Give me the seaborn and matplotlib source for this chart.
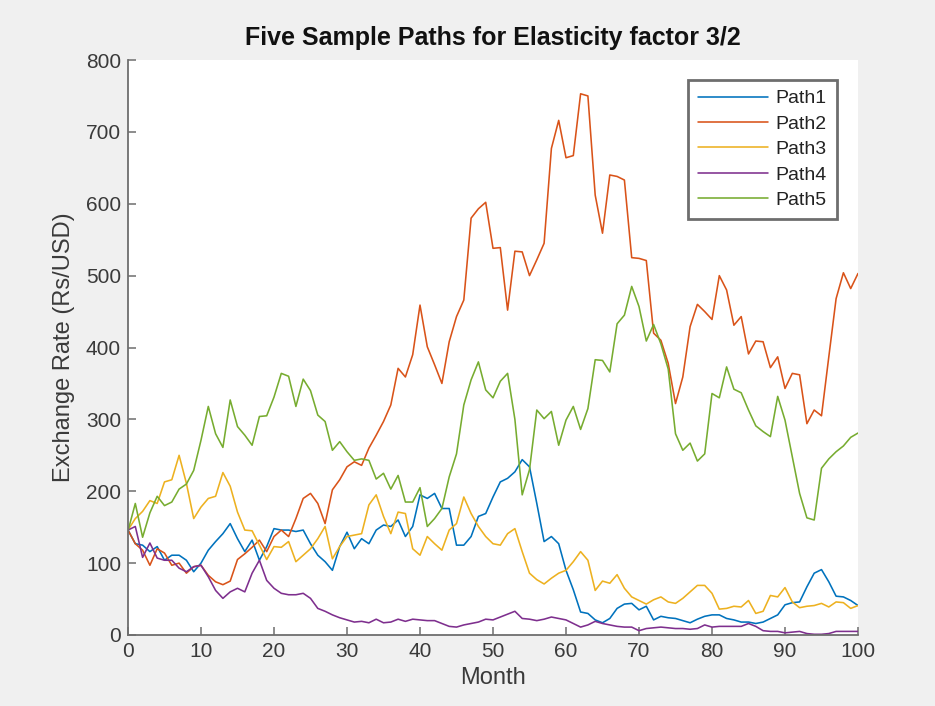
import numpy as np
import pandas as pd
import matplotlib
matplotlib.use("Agg")
import matplotlib.pyplot as plt
import seaborn as sns

months = list(range(101))

path1 = [146, 127, 125, 116, 123, 104, 111, 111, 104, 88,
         100, 118, 130, 141, 155, 134, 116, 132, 104, 123,
         148, 146, 146, 144, 146, 127, 111, 102, 90, 123,
         143, 120, 134, 127, 146, 153, 151, 160, 137, 151,
         195, 190, 197, 176, 176, 125, 125, 137, 165, 169,
         192, 213, 218, 227, 244, 234, 183, 130, 137, 127,
         90, 63, 32, 30, 21, 17, 23, 37, 43, 44,
         35, 40, 21, 26, 24, 23, 20, 17, 22, 26,
         28, 28, 23, 21, 18, 18, 16, 18, 23, 28,
         42, 45, 46, 67, 86, 91, 74, 54, 53, 48,
         41]

path2 = [146, 127, 118, 97, 120, 114, 97, 100, 86, 95,
         97, 83, 74, 70, 75, 105, 113, 122, 132, 116,
         137, 146, 137, 162, 190, 197, 183, 155, 202, 216,
         234, 241, 236, 260, 278, 297, 320, 371, 359, 390,
         459, 401, 376, 350, 408, 443, 466, 580, 593, 602,
         538, 539, 452, 534, 533, 500, 522, 545, 677, 716,
         664, 667, 753, 750, 612, 559, 640, 638, 633, 525,
         524, 521, 420, 410, 378, 322, 359, 429, 460, 450,
         439, 500, 480, 431, 443, 391, 409, 408, 372, 387,
         343, 364, 362, 294, 313, 305, 387, 468, 504, 482,
         503]

path3 = [146, 162, 172, 187, 183, 213, 216, 250, 211, 162,
         178, 190, 193, 226, 207, 171, 146, 145, 125, 105,
         123, 122, 130, 102, 111, 120, 134, 151, 106, 123,
         137, 139, 141, 181, 195, 165, 141, 171, 169, 120,
         111, 137, 127, 118, 146, 155, 192, 169, 151, 137,
         127, 125, 141, 148, 116, 86, 77, 71, 79, 86,
         90, 102, 116, 104, 62, 75, 72, 84, 65, 53,
         48, 43, 49, 53, 46, 44, 51, 60, 69, 69,
         58, 36, 37, 40, 39, 48, 30, 33, 55, 53,
         66, 46, 38, 40, 41, 44, 39, 46, 45, 37,
         41]

path4 = [146, 151, 108, 128, 107, 104, 104, 93, 88, 95,
         97, 81, 62, 51, 60, 65, 60, 86, 104, 76,
         65, 58, 56, 56, 58, 51, 37, 33, 28, 24,
         21, 18, 19, 17, 22, 17, 18, 22, 19, 22,
         21, 20, 20, 16, 12, 11, 14, 16, 18, 22,
         21, 25, 29, 33, 23, 22, 20, 22, 25, 23,
         21, 16, 11, 14, 19, 16, 14, 12, 11, 11,
         6, 9, 10, 11, 10, 9, 9, 8, 9, 14,
         11, 12, 12, 12, 12, 16, 12, 6, 5, 5,
         3, 4, 5, 2, 1, 1, 2, 5, 5, 5,
         5]

path5 = [145, 183, 136, 170, 193, 180, 185, 203, 210, 229,
         271, 318, 280, 261, 327, 290, 278, 264, 304, 305,
         331, 364, 360, 318, 356, 340, 306, 297, 257, 269,
         255, 243, 245, 243, 217, 225, 203, 222, 185, 185,
         205, 151, 162, 176, 220, 252, 320, 355, 380, 341,
         330, 353, 364, 300, 195, 230, 313, 301, 311, 264,
         299, 318, 286, 315, 383, 382, 366, 433, 445, 485,
         457, 409, 432, 405, 370, 280, 257, 267, 242, 252,
         336, 330, 373, 342, 337, 313, 291, 283, 276, 332,
         299, 248, 197, 163, 160, 232, 245, 255, 263, 275,
         281]

path_names = ["Path1", "Path2", "Path3", "Path4", "Path5"]
colors = ["#0072BD", "#D95319", "#EDB120", "#7E2F8E", "#77AC30"]
x_ticks = list(range(0, 101, 10))
y_ticks = list(range(0, 801, 100))

frames = []
for name, vals in zip(path_names, [path1, path2, path3, path4, path5]):
    frames.append(pd.DataFrame({"Month": months, "Rate": vals, "Path": name}))
df = pd.concat(frames, ignore_index=True)

sns.set_theme(style="white")
plt.rcParams['font.family'] = ['Liberation Sans', 'DejaVu Sans']

fig = plt.figure(figsize=(9.35, 7.06), dpi=100, facecolor="#f0f0f0")
ax = fig.add_axes([128/935, 1 - 635/706, 730/935, 575/706])
ax.set_facecolor("white")

sns.lineplot(data=df, x="Month", y="Rate", hue="Path", hue_order=path_names,
             palette=colors, linewidth=1.15, ax=ax, legend=True)

ax.set_xlim(0, 100)
ax.set_ylim(0, 800)
ax.set_xticks(x_ticks)
ax.set_yticks(y_ticks)

axcol = "#6e6e6e"
for side in ["top", "right"]:
    ax.spines[side].set_visible(False)
for side in ["left", "bottom"]:
    ax.spines[side].set_visible(True)
    ax.spines[side].set_color(axcol)
    ax.spines[side].set_linewidth(1.3)

ax.tick_params(axis="both", direction="in", length=5.5, width=1.1,
               color=axcol, labelsize=15, labelcolor="#3a3a3a", pad=5,
               bottom=True, left=True)

ax.set_xlabel("Month", fontsize=17, color="#3a3a3a", labelpad=4)
ax.set_ylabel("Exchange Rate (Rs/USD)", fontsize=17, color="#3a3a3a", labelpad=8)
ax.set_title("Five Sample Paths for Elasticity factor 3/2", fontsize=18,
             fontweight="bold", color="#111111", pad=11)

leg = ax.legend(loc="upper right", bbox_to_anchor=(0.971, 0.965), fontsize=14,
                frameon=True, fancybox=False, handlelength=3.6, labelspacing=0.4,
                borderpad=0.5, handletextpad=0.4, borderaxespad=0)
leg.get_frame().set_edgecolor("#6e6e6e")
leg.get_frame().set_linewidth(2.0)
leg.get_frame().set_facecolor("white")
leg.get_frame().set_alpha(1.0)
for t in leg.get_texts():
    t.set_color("#222222")

fig.savefig("out.png", dpi=100, facecolor=fig.get_facecolor())
